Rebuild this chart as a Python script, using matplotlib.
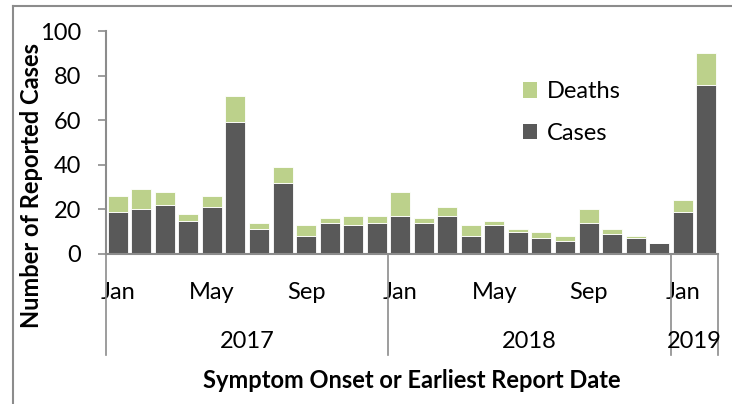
import matplotlib
matplotlib.use("Agg")
import matplotlib.pyplot as plt
import matplotlib.transforms as mtransforms
from matplotlib.patches import Patch
from matplotlib.lines import Line2D

# monthly counts, Jan 2017 .. Feb 2019
cases = [19, 20, 22, 15, 21, 59, 11, 32, 8, 14, 13, 14,
         17, 14, 17, 8, 13, 10, 7, 6, 14, 9, 7, 5,
         19, 76]
totals = [26, 29, 28, 18, 26, 71, 14, 39, 13, 16, 17, 17,
          28, 16, 21, 13, 15, 11, 10, 8, 20, 11, 8, 5,
          24, 90]
deaths = [t - c for t, c in zip(totals, cases)]

month_labels = ["Jan", "May", "Sep", "Jan", "May", "Sep", "Jan"]
month_idx = [0, 4, 8, 12, 16, 20, 24]
years = ["2017", "2018", "2019"]
year_bounds = [-0.5, 11.5, 23.5, 25.5]

CASE_COL = "#595959"
DEATH_COL = "#bcd18b"
AXIS_COL = "#8c8c8c"
FS = 17

plt.rcParams['font.family'] = ['Lato', 'DejaVu Sans']

W, H = 732, 404
fig = plt.figure(figsize=(W / 100, H / 100), dpi=100)
ax = fig.add_axes([106 / W, 1 - 254 / H, (718 - 106) / W, (254 - 31) / H])

x = list(range(len(cases)))
ax.bar(x, cases, width=0.85, color=CASE_COL, edgecolor="white", linewidth=0.6)
ax.bar(x, deaths, bottom=cases, width=0.85, color=DEATH_COL, edgecolor="white", linewidth=0.6)

ax.set_xlim(-0.5, 25.5)
ax.set_ylim(0, 100)
ax.set_yticks([0, 20, 40, 60, 80, 100])
ax.tick_params(axis="y", length=6, width=1.2, color=AXIS_COL, labelsize=FS, pad=12)
ax.set_xticks(month_idx)
ax.set_xticklabels(month_labels)
ax.tick_params(axis="x", length=0, labelsize=FS, pad=20)

for s in ["top", "right"]:
    ax.spines[s].set_visible(False)
for s in ["left", "bottom"]:
    ax.spines[s].set_color(AXIS_COL)
    ax.spines[s].set_linewidth(1.5)

# year grouping level of the category axis
trans = mtransforms.blended_transform_factory(ax.transData, ax.transAxes)
for b in year_bounds:
    ax.plot([b, b], [0, -0.455], transform=trans, color=AXIS_COL, lw=1.2, clip_on=False)
for i, yr in enumerate(years):
    xc = (year_bounds[i] + year_bounds[i + 1]) / 2
    ax.text(xc, -0.392, yr, transform=trans, ha="center", va="center", fontsize=FS)

ax.set_ylabel("Number of Reported Cases", fontsize=FS, fontweight="bold")
ax.yaxis.set_label_coords(-0.103, 0.305)
fig.text(412 / W, 1 - 381 / H, "Symptom Onset or Earliest Report Date",
         ha="center", va="center", fontsize=FS, fontweight="bold")

handles = [Patch(facecolor=DEATH_COL), Patch(facecolor=CASE_COL)]
ax.legend(handles, ["Deaths", "Cases"], loc="upper left", bbox_to_anchor=(0.681, 0.775),
          frameon=False, fontsize=FS, handlelength=0.62, handleheight=0.62,
          labelspacing=0.88, handletextpad=0.4, borderpad=0, borderaxespad=0)

# chart frame
fig.add_artist(Line2D([13 / W, 1], [1 - 6 / H, 1 - 6 / H], transform=fig.transFigure,
                      color="#8c8c8c", lw=1.5))
fig.add_artist(Line2D([13 / W, 13 / W], [0, 1 - 6 / H], transform=fig.transFigure,
                      color="#8c8c8c", lw=1.5))

fig.savefig("out.png", dpi=100)
